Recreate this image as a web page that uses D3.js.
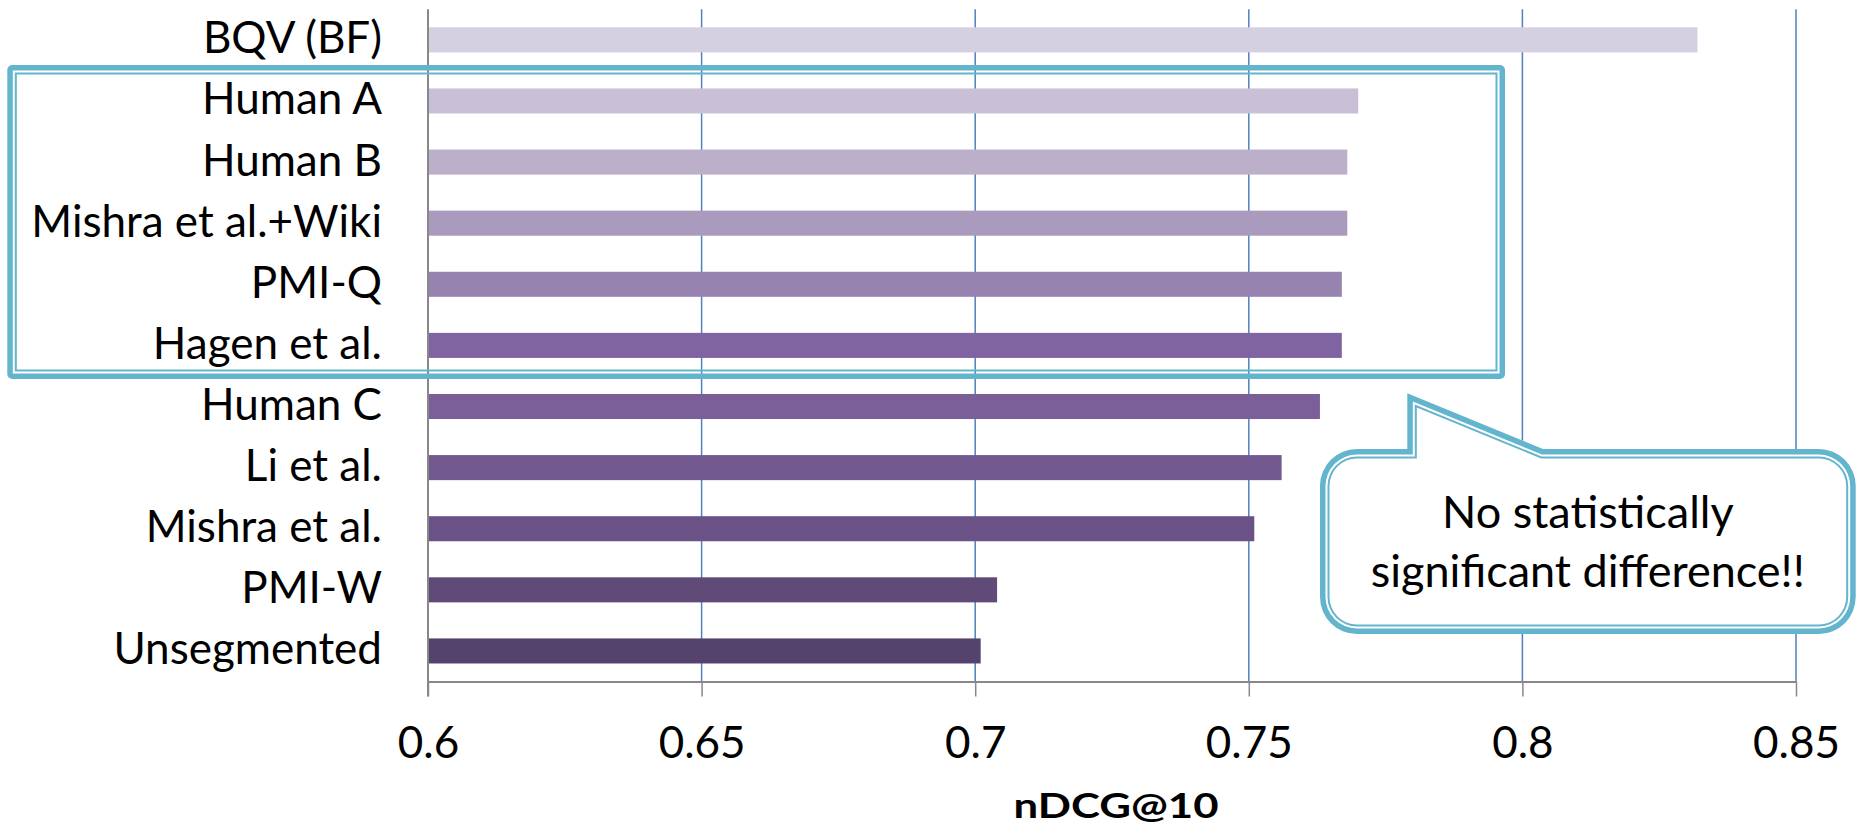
<!DOCTYPE html>
<html>
<head>
<meta charset="utf-8">
<script src="https://cdn.jsdelivr.net/npm/d3@7/dist/d3.min.js"></script>
<style>
  html, body { margin: 0; padding: 0; background: #ffffff; }
  svg { display: block; }
  text { font-family: Lato, "Open Sans", sans-serif; fill: #000; }
</style>
</head>
<body>
<svg id="chart" width="1858" height="829"></svg>
<script>
// Segmentation methods, top to bottom
const categories = [
  "BQV (BF)", "Human A", "Human B", "Mishra et al.+Wiki", "PMI-Q",
  "Hagen et al.", "Human C", "Li et al.", "Mishra et al.", "PMI-W", "Unsegmented"
];
// nDCG@10 per method
const values = [0.832, 0.770, 0.768, 0.768, 0.767, 0.767, 0.763, 0.756, 0.751, 0.704, 0.701];
// Bar fills, light to dark purple
const barColors = [
  "#d5d0e0", "#c8c0d6", "#bbafca", "#aa9bbe", "#9683af", "#8064a2",
  "#7a5f99", "#72598f", "#6a5186", "#5f4a78", "#54436d"
];
const tickValues = [0.6, 0.65, 0.7, 0.75, 0.8, 0.85];
const tickLabels = ["0.6", "0.65", "0.7", "0.75", "0.8", "0.85"];
const axisTitle = "nDCG@10";
const calloutLines = ["No statistically", "significant difference!!"];

const svg = d3.select("#chart");

const plot = { left: 428, right: 1796, top: 9.3, bottom: 681.5 };
const labelSize = 44;

const x = d3.scaleLinear().domain([0.6, 0.85]).range([plot.left, plot.right]);
const y = d3.scaleBand().domain(categories)
  .range([plot.top, plot.bottom])
  .paddingInner(0.59).paddingOuter(0.295);

const teal = "#62b5cc";

// Vertical gridlines
svg.append("g")
  .selectAll("line")
  .data(tickValues.slice(1))
  .join("line")
  .attr("x1", d => x(d)).attr("x2", d => x(d))
  .attr("y1", plot.top).attr("y2", plot.bottom)
  .attr("stroke", "#4f81bd").attr("stroke-width", 1.5);

// Bars
svg.append("g")
  .selectAll("rect")
  .data(categories)
  .join("rect")
  .attr("x", x(0.6) + 1)
  .attr("y", d => y(d))
  .attr("width", (d, i) => x(values[i]) - x(0.6) - 1)
  .attr("height", y.bandwidth())
  .attr("fill", (d, i) => barColors[i]);

// Bottom axis
const xAxis = d3.axisBottom(x)
  .tickValues(tickValues)
  .tickFormat((d, i) => tickLabels[i])
  .tickSize(15)
  .tickPadding(33)
  .tickSizeOuter(0);
const gx = svg.append("g")
  .attr("transform", `translate(0,${plot.bottom})`)
  .call(xAxis);
gx.select(".domain").attr("stroke", "#888").attr("stroke-width", 2);
gx.selectAll(".tick line").attr("stroke", "#888").attr("stroke-width", 1.5);
gx.selectAll(".tick text")
  .attr("font-family", "Lato")
  .attr("font-size", labelSize)
  .attr("fill", "#000")
  .attr("dy", 28.5);

// Left axis (category labels, no ticks)
const yAxis = d3.axisLeft(y).tickSize(0).tickPadding(46);
const gy = svg.append("g")
  .attr("transform", `translate(${plot.left},0)`)
  .call(yAxis);
gy.select(".domain").remove();
gy.selectAll(".tick text")
  .attr("font-family", "Lato")
  .attr("font-size", labelSize)
  .attr("fill", "#000")
  .attr("dy", 13.5);

// Vertical axis line, drawn through to the tick depth
svg.append("line")
  .attr("x1", plot.left).attr("x2", plot.left)
  .attr("y1", plot.top).attr("y2", plot.bottom + 15)
  .attr("stroke", "#888").attr("stroke-width", 2);

// Axis title
svg.append("text")
  .attr("x", (plot.left + plot.right) / 2 + 4)
  .attr("y", 818)
  .attr("text-anchor", "middle")
  .attr("font-size", 34)
  .attr("font-weight", 700)
  .attr("textLength", 205)
  .attr("lengthAdjust", "spacingAndGlyphs")
  .text(axisTitle);

// Thick-thin double outline helper: outer band 0..5.5, gap, thin band 7.5..9.5
function doubleOutline(g, shapeFn) {
  g.append("path")
    .attr("d", shapeFn(0) + shapeFn(5.5))
    .attr("fill", teal).attr("fill-rule", "evenodd");
  g.append("path")
    .attr("d", shapeFn(7.5) + shapeFn(9.5))
    .attr("fill", teal).attr("fill-rule", "evenodd");
}

// Highlight box around the group with no significant difference
const box = { x0: 7.3, y0: 65, x1: 1505, y1: 379, r: 5 };
function boxShape(d) {
  const r = Math.max(0.01, box.r - d);
  const a = box.x0 + d, b = box.y0 + d, c = box.x1 - d, e = box.y1 - d;
  return `M${a},${b + r}A${r},${r} 0 0 1 ${a + r},${b}` +
    `L${c - r},${b}A${r},${r} 0 0 1 ${c},${b + r}` +
    `L${c},${e - r}A${r},${r} 0 0 1 ${c - r},${e}` +
    `L${a + r},${e}A${r},${r} 0 0 1 ${a},${e - r}Z`;
}
doubleOutline(svg.append("g"), boxShape);

// Speech-bubble callout
const bubble = { x0: 1320, y0: 449, x1: 1855.7, y1: 634, r: 37, px: 1407.3, tipY: 393.3, baseR: 1543 };
function bubbleShape(d) {
  const r = bubble.r - d;
  const a = bubble.x0 + d, b = bubble.y0 + d, c = bubble.x1 - d, e = bubble.y1 - d;
  return `M${a},${b + r}A${r},${r} 0 0 1 ${a + r},${b}` +
    `L${bubble.px + d},${b}` +
    `L${bubble.px + d},${bubble.tipY + 1.5 * d}` +
    `L${bubble.baseR - 0.2 * d},${b}` +
    `L${c - r},${b}A${r},${r} 0 0 1 ${c},${b + r}` +
    `L${c},${e - r}A${r},${r} 0 0 1 ${c - r},${e}` +
    `L${a + r},${e}A${r},${r} 0 0 1 ${a},${e - r}Z`;
}
const gb = svg.append("g");
gb.append("path").attr("d", bubbleShape(0)).attr("fill", "#fff");
doubleOutline(gb, bubbleShape);
gb.append("g")
  .selectAll("text")
  .data(calloutLines)
  .join("text")
  .attr("x", (bubble.x0 + bubble.x1) / 2)
  .attr("y", (d, i) => 528 + i * 58.7)
  .attr("text-anchor", "middle")
  .attr("font-size", 45)
  .text(d => d);
</script>
</body>
</html>
